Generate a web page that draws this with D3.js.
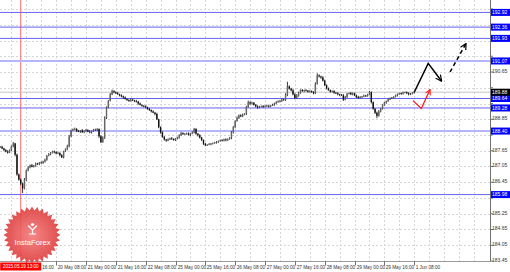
<!DOCTYPE html>
<html><head><meta charset="utf-8">
<script src="https://cdn.jsdelivr.net/npm/d3@7"></script>
<style>html,body{margin:0;padding:0;background:#fff;overflow:hidden}svg{display:block}</style>
</head><body>
<svg id="c" width="510" height="272"></svg>
<script>
// ---------- DATA ----------
const closes = [
187.80,187.74,187.68,187.62,187.58,187.66,187.82,187.93,187.50,186.75,
186.55,186.40,186.22,186.55,186.90,187.02,187.10,187.04,187.08,187.16,
187.14,187.20,187.18,187.24,187.30,187.46,187.52,187.58,187.62,187.60,
187.55,187.57,187.48,187.40,187.62,187.70,187.82,188.20,188.42,188.46,
188.48,188.40,188.38,188.42,188.36,188.40,188.44,188.38,188.36,188.40,
188.45,188.44,188.48,188.20,187.98,188.15,188.90,189.30,189.55,189.80,
189.92,189.88,189.84,189.80,189.76,189.72,189.68,189.62,189.58,189.55,
189.60,189.57,189.54,189.52,189.45,189.40,189.36,189.34,189.30,189.25,
189.20,189.15,189.10,189.05,188.85,188.55,188.35,188.18,188.08,188.04,
188.08,188.12,188.10,188.06,188.10,188.14,188.25,188.32,188.28,188.30,
188.31,188.26,188.30,188.34,188.48,188.30,188.24,188.15,188.06,187.92,
187.86,187.88,187.90,187.92,187.94,187.96,187.98,188.02,188.05,188.04,
188.08,188.05,188.10,188.14,188.35,188.55,188.78,188.90,189.00,188.96,
189.02,189.05,189.32,189.50,189.45,189.48,189.40,189.34,189.30,189.33,
189.35,189.32,189.35,189.36,189.34,189.38,189.40,189.45,189.50,189.52,
189.55,189.60,189.58,189.78,190.10,190.02,189.95,189.80,189.66,189.75,
189.85,189.96,189.92,189.95,189.94,189.90,189.92,189.88,189.84,190.20,
190.52,190.48,190.44,190.32,190.15,190.02,189.96,189.90,189.92,189.86,
189.84,189.80,189.78,189.76,189.60,189.70,189.82,189.85,189.80,189.84,
189.76,189.70,189.66,189.70,189.72,189.75,189.74,189.78,189.88,189.50,
189.25,189.10,188.98,189.15,189.25,189.38,189.48,189.54,189.60,189.65,
189.68,189.70,189.75,189.80,189.84,189.82,189.86,189.88,189.84,189.80,
189.82,189.86,189.88];
// upper / lower wick lengths in hundredths
const wickUp = [
3,4,2,3,5,4,3,5,2,4, 3,5,4,6,3,4,2,5,3,4, 3,2,4,3,5,3,4,2,3,4, 3,5,2,4,3,4,6,5,3,4,
5,3,4,2,6,3,4,3,5,2, 3,4,3,2,4,5,6,4,3,5, 6,4,3,5,2,4,3,4,2,3, 4,3,2,5,3,4,2,3,4,3,
3,2,4,3,5,2,3,4,3,2, 4,3,5,2,3,4,3,5,3,2, 3,4,2,5,4,3,2,4,3,2, 3,2,4,3,2,3,4,2,3,4,
3,4,2,3,5,4,3,6,3,4, 5,3,4,6,3,4,2,3,4,3, 2,4,3,5,3,2,4,3,4,5, 3,4,5,6,18,4,3,5,4,6,
5,3,4,3,5,2,4,3,4,6, 8,4,3,5,4,3,4,2,3,4, 3,4,2,3,5,4,3,2,4,3, 2,3,4,3,2,4,3,4,5,3,
3,2,4,5,3,4,3,2,4,3, 2,3,4,3,2,3,4,2,3,4, 3,2,3];
const wickDn = [
4,3,5,3,4,2,3,4,6,5, 4,6,18,4,5,3,4,2,3,4, 3,4,2,3,4,3,2,4,3,5, 4,3,5,3,4,2,3,4,3,2,
3,4,2,5,3,4,3,2,4,5, 3,2,4,6,4,3,5,4,3,2, 3,4,3,2,4,3,5,2,3,4, 3,2,4,3,5,2,3,4,3,4,
3,4,2,5,3,4,5,3,4,5, 3,2,4,3,4,2,3,4,2,3, 4,3,5,2,3,4,5,3,4,5, 4,3,2,4,3,2,4,3,2,4,
3,4,2,3,5,4,3,2,4,3, 3,2,4,3,5,4,3,4,5,3, 3,4,2,3,4,3,2,4,3,2, 3,4,2,3,5,4,3,4,5,3,
4,3,2,4,3,4,3,2,4,3, 3,4,5,3,4,3,2,4,3,4, 3,4,5,2,5,3,4,2,3,4, 3,4,3,2,4,3,4,3,2,5,
4,5,9,3,4,3,2,4,3,2, 3,4,2,3,2,4,3,2,3,4, 3,2,3];

// first label is mostly hidden behind the marker tag; only its time part shows
const timeLabels = ["16:00","20 May 08:00","21 May 00:00","21 May 16:00","22 May 08:00","25 May 00:00","25 May 16:00","26 May 08:00","27 May 00:00","27 May 16:00","28 May 08:00","29 May 00:00","29 May 16:00","1 Jun 08:00"];
const timeIdx = [14,30,46,62,78,94,110,126,142,158,174,190,206,222];
const priceTicks = [183.45,184.05,184.65,185.25,185.85,186.45,187.05,187.65,188.25,188.85,189.45,190.05,190.65,191.25,191.85,192.45,193.05];
const levels = [192.92,192.36,191.93,191.07,189.64,189.28,188.40,185.98];
const levelStrong = [true,true,true,false,true,true,false,true];
const markerIdx = 11, markerLabel = "2015.05.19 13:00";
const blackArrow = [[222,189.88],[229.5,190.98],[236.7,190.30]];
const dashArrow = [[241.2,190.65],[249.8,191.74]];
const redArrow = [[221.3,189.56],[225.8,189.26],[230.5,189.98]];
const logoText = "InstaForex";

// ---------- LAYOUT ----------
const plotR = 490, plotB = 261.5;
const x = d3.scaleLinear().domain([0,222]).range([0.2, 0.2+222*1.865]);
const y = d3.scaleLinear().domain([183.45,193.05]).range([261,9]);
const svg = d3.select("#c");
const font = "'Liberation Sans', Arial, sans-serif";
const last = closes[closes.length-1];

// grid
const g = svg.append("g").attr("stroke","#d6d6d6").attr("stroke-width",1).attr("stroke-dasharray","2,2");
priceTicks.forEach(v=>{
  const yy = Math.round(y(v))+0.5;
  g.append("line").attr("x1",0).attr("x2",plotR).attr("y1",yy).attr("y2",yy);
});
for(let i=6;i<=260;i+=8){
  const xx = Math.round(x(i))+0.5;
  if (xx>=plotR) break;
  g.append("line").attr("x1",xx).attr("x2",xx).attr("y1",0).attr("y2",plotB);
}

// red marker line
svg.append("line").attr("x1",x(markerIdx)).attr("x2",x(markerIdx)).attr("y1",0).attr("y2",plotB)
  .attr("stroke","#ff6a6a").attr("stroke-width",1);

// bid line
svg.append("line").attr("x1",0).attr("x2",plotR).attr("y1",y(last)).attr("y2",y(last))
  .attr("stroke","#c4c4c4").attr("stroke-width",1);

// level lines
levels.forEach((v,k)=>{
  svg.append("line").attr("x1",0).attr("x2",plotR).attr("y1",y(v)).attr("y2",y(v))
    .attr("stroke", levelStrong[k] ? "#6464f0" : "#b4b4ff")
    .attr("stroke-width", levelStrong[k] ? 1 : 2);
});

// candles
const cg = svg.append("g");
closes.forEach((c,i)=>{
  const o = i>0 ? closes[i-1] : c;
  const hi = Math.max(o,c) + wickUp[i]/100;
  const lo = Math.min(o,c) - wickDn[i]/100;
  const xx = x(i);
  cg.append("line").attr("x1",xx).attr("x2",xx).attr("y1",y(hi)).attr("y2",y(lo))
    .attr("stroke","#222").attr("stroke-width",0.9);
  cg.append("rect").attr("x",xx-0.7).attr("width",1.4)
    .attr("y",y(Math.max(o,c))).attr("height",Math.max(0.7,Math.abs(y(o)-y(c))))
    .attr("fill", c>=o ? "#666" : "#111");
});

// arrows
const defs = svg.append("defs");
function marker(id,color){
  defs.append("marker").attr("id",id).attr("viewBox","0 0 10 10").attr("refX",9).attr("refY",5)
    .attr("markerWidth",5).attr("markerHeight",5).attr("orient","auto").attr("markerUnits","strokeWidth")
    .append("path").attr("d","M1,1 L9,5 L1,9").attr("fill","none").attr("stroke",color).attr("stroke-width",1.6);
}
marker("ab","#000"); marker("ar","#ff1a1a");
const line = d3.line().x(d=>x(d[0])).y(d=>y(d[1]));
svg.append("path").attr("d",line(blackArrow)).attr("fill","none").attr("stroke","#000").attr("stroke-width",1.5).attr("marker-end","url(#ab)");
svg.append("path").attr("d",line(dashArrow)).attr("fill","none").attr("stroke","#000").attr("stroke-width",1.5).attr("stroke-dasharray","4,3").attr("marker-end","url(#ab)");
svg.append("path").attr("d",line(redArrow)).attr("fill","none").attr("stroke","#ff1a1a").attr("stroke-width",1.3).attr("marker-end","url(#ar)");

// frame
svg.append("line").attr("x1",plotR+0.5).attr("x2",plotR+0.5).attr("y1",0).attr("y2",plotB).attr("stroke","#707070");
svg.append("line").attr("x1",0).attr("x2",plotR+0.5).attr("y1",plotB).attr("y2",plotB).attr("stroke","#9a9a9a");

// price axis labels (tick text hidden where a level tag covers it)
const fmt = d3.format(".2f");
const tagVals = levels.concat([last]);
priceTicks.forEach(v=>{
  svg.append("line").attr("x1",plotR).attr("x2",plotR+3).attr("y1",y(v)).attr("y2",y(v)).attr("stroke","#707070");
  const covered = tagVals.some(t=>Math.abs(y(t)-(y(v)-1))<7.5);
  if (!covered)
    svg.append("text").attr("x",492).attr("y",y(v)-1).attr("dy","0.35em")
      .attr("font-family",font).attr("font-size",5).attr("fill","#333").text(fmt(v));
});
function tag(v,bg){
  const yy = y(v);
  svg.append("rect").attr("x",491).attr("y",yy-3.5).attr("width",19).attr("height",7).attr("fill",bg);
  svg.append("text").attr("x",492).attr("y",yy).attr("dy","0.35em")
    .attr("font-family",font).attr("font-size",5).attr("fill","#fff").text(fmt(v));
}
levels.forEach(v=>tag(v,"#0000ff"));
tag(last,"#000");

// time axis
const mx = x(markerIdx);
timeIdx.forEach((ti,k)=>{
  const xx = Math.round(x(ti))+0.5;
  svg.append("line").attr("x1",xx).attr("x2",xx).attr("y1",plotB).attr("y2",plotB+4).attr("stroke","#707070");
  const tx = k===0 ? mx+21.5 : xx+1.2;
  svg.append("text").attr("x",tx).attr("y",267.3).attr("dy","0.3em")
    .attr("font-family",font).attr("font-size",4.7).attr("fill","#333").text(timeLabels[k]);
});

// marker label
svg.append("rect").attr("x",mx-20.5).attr("y",262.5).attr("width",41).attr("height",8).attr("fill","#ff0000");
svg.append("text").attr("x",mx).attr("y",266.5).attr("dy","0.35em").attr("text-anchor","middle")
  .attr("font-family",font).attr("font-size",4.6).attr("fill","#fff").text(markerLabel);

// logo badge
const grad = defs.append("radialGradient").attr("id","lg");
grad.append("stop").attr("offset","0%").attr("stop-color","#f47a7a");
grad.append("stop").attr("offset","100%").attr("stop-color","#dd3a3a");
const cx = 32, cy = 235, n = 32;
const pts = d3.range(n*2).map(k=>{
  const a = k*Math.PI/n, r = k%2 ? 24.5 : 28.5;
  return [cx + r*Math.sin(a), cy - r*Math.cos(a)];
});
svg.append("path").attr("d","M"+pts.map(p=>p.join(",")).join("L")+"Z").attr("fill","url(#lg)").attr("opacity",0.9);
const ic = svg.append("g").attr("stroke","#fff").attr("fill","none").attr("stroke-width",1.2).attr("stroke-linecap","round");
ic.append("circle").attr("cx",cx+0.5).attr("cy",224.5).attr("r",1.6).attr("fill","#fff").attr("stroke","none");
ic.append("path").attr("d",`M${cx-3.5},226 L${cx+0.5},230 L${cx+4.5},226 M${cx+0.5},230 L${cx+0.5},234 M${cx-2.5},234 L${cx+3.5},234`);
svg.append("text").attr("x",cx+0.5).attr("y",242).attr("dy","0.35em").attr("text-anchor","middle")
  .attr("font-family",font).attr("font-size",7.6).attr("fill","#fff").text(logoText);
</script>
</body></html>
